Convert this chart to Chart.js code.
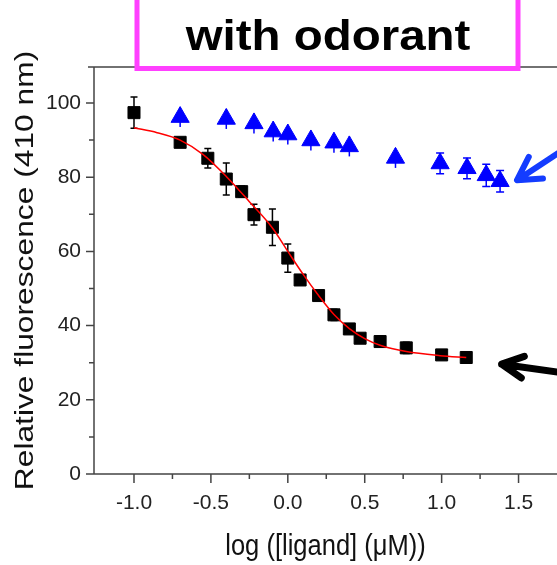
<!DOCTYPE html>
<html>
<head>
<meta charset="utf-8">
<script src="https://cdn.jsdelivr.net/npm/chart.js@4.4.0/dist/chart.umd.min.js"></script>
<style>
  html, body { margin: 0; padding: 0; background: #fff; }
</style>
</head>
<body>
<canvas id="myChart" width="557" height="565"></canvas>
<script>
// log([ligand] (uM)) vs relative fluorescence
var blackX   = [-1.0, -0.70, -0.52, -0.40, -0.30, -0.22, -0.10, 0.0, 0.08, 0.20, 0.30, 0.40, 0.47, 0.60, 0.77, 1.0, 1.16];
var blackY   = [97.4, 89.4, 85.1, 79.5, 76.1, 69.9, 66.5, 58.2, 52.3, 48.1, 42.9, 39.1, 36.6, 35.7, 34.0, 32.1, 31.4];
var blackErr = [4.2, 1.2, 2.6, 4.3, 1.5, 2.8, 4.9, 3.8, 1.2, 1.0, 1.5, 1.0, 1.0, 1.5, 1.5, 1.2, 1.0];

var blueX   = [-0.70, -0.40, -0.22, -0.095, 0.0, 0.15, 0.30, 0.40, 0.70, 0.99, 1.165, 1.29, 1.38];
var blueY   = [96.2, 95.7, 94.5, 92.3, 91.5, 89.9, 89.3, 88.3, 85.2, 83.7, 82.4, 80.5, 78.9];
var blueErr = [2.7, 2.7, 2.7, 2.7, 2.7, 2.7, 2.7, 2.7, 2.7, 2.8, 2.8, 3.0, 2.9];
var blueCap = [false, false, false, false, false, false, false, false, false, true, true, true, true];

// red fitted curve
var fitX = [-1.0, -0.85, -0.70, -0.55, -0.40, -0.25, -0.10, 0.0, 0.10, 0.20, 0.30, 0.40, 0.50, 0.60, 0.77, 0.99, 1.16];
var fitY = [93.3, 92.0, 90.0, 86.1, 80.2, 73.4, 66.3, 60.0, 53.8, 48.1, 43.0, 39.2, 36.5, 34.7, 33.0, 31.9, 31.4];

var xTicks = [-1.0, -0.5, 0.0, 0.5, 1.0, 1.5];
var xMinor = [-0.75, -0.25, 0.25, 0.75, 1.25];
var yTicks = [0, 20, 40, 60, 80, 100];
var yMinor = [10, 30, 50, 70, 90];

var font = "'Liberation Sans', Arial, sans-serif";

function pts(xs, ys) {
  return xs.map(function (x, i) { return { x: x, y: ys[i] }; });
}

function arrow(ctx, x1, y1, x2, y2, color, w, head, spread) {
  var a = Math.atan2(y1 - y2, x1 - x2);
  ctx.save();
  ctx.strokeStyle = color;
  ctx.lineWidth = w;
  ctx.lineCap = 'round';
  ctx.lineJoin = 'round';
  ctx.beginPath();
  ctx.moveTo(x1, y1);
  ctx.lineTo(x2, y2);
  ctx.moveTo(x2 + head * Math.cos(a - spread), y2 + head * Math.sin(a - spread));
  ctx.lineTo(x2, y2);
  ctx.lineTo(x2 + head * Math.cos(a + spread), y2 + head * Math.sin(a + spread));
  ctx.stroke();
  ctx.restore();
}

var decor = {
  id: 'decor',
  beforeDatasetsDraw: function (chart) {
    var ctx = chart.ctx, xs = chart.scales.x, ys = chart.scales.y;
    ctx.save();
    ctx.lineWidth = 1.5;
    // error bars
    ctx.strokeStyle = '#000';
    for (var i = 0; i < blackX.length; i++) {
      var px = xs.getPixelForValue(blackX[i]);
      var t = ys.getPixelForValue(blackY[i] + blackErr[i]);
      var b = ys.getPixelForValue(blackY[i] - blackErr[i]);
      ctx.beginPath();
      ctx.moveTo(px, t); ctx.lineTo(px, b);
      ctx.moveTo(px - 3.5, t); ctx.lineTo(px + 3.5, t);
      ctx.moveTo(px - 3.5, b); ctx.lineTo(px + 3.5, b);
      ctx.stroke();
    }
    ctx.strokeStyle = '#0000ff';
    for (var j = 0; j < blueX.length; j++) {
      var qx = xs.getPixelForValue(blueX[j]);
      var qt = ys.getPixelForValue(blueY[j] + blueErr[j]);
      var qb = ys.getPixelForValue(blueY[j] - blueErr[j]);
      ctx.beginPath();
      ctx.moveTo(qx, qt); ctx.lineTo(qx, qb);
      if (blueCap[j]) {
        ctx.moveTo(qx - 4, qt); ctx.lineTo(qx + 4, qt);
        ctx.moveTo(qx - 4, qb); ctx.lineTo(qx + 4, qb);
      }
      ctx.stroke();
    }
    ctx.restore();
  },
  afterDraw: function (chart) {
    var ctx = chart.ctx, xs = chart.scales.x, ys = chart.scales.y, a = chart.chartArea;
    ctx.save();
    // axes
    ctx.strokeStyle = '#444';
    ctx.lineWidth = 1.5;
    ctx.beginPath();
    ctx.moveTo(a.left, a.top); ctx.lineTo(a.left, a.bottom);
    ctx.moveTo(a.left, a.bottom); ctx.lineTo(a.right, a.bottom);
    ctx.moveTo(a.left - 6, a.top); ctx.lineTo(a.right, a.top);
    xTicks.forEach(function (v) {
      var p = xs.getPixelForValue(v);
      ctx.moveTo(p, a.bottom); ctx.lineTo(p, a.bottom + 9);
    });
    xMinor.forEach(function (v) {
      var p = xs.getPixelForValue(v);
      ctx.moveTo(p, a.bottom); ctx.lineTo(p, a.bottom + 5);
    });
    yTicks.forEach(function (v) {
      var p = ys.getPixelForValue(v);
      ctx.moveTo(a.left - 8, p); ctx.lineTo(a.left, p);
    });
    yMinor.forEach(function (v) {
      var p = ys.getPixelForValue(v);
      ctx.moveTo(a.left - 5, p); ctx.lineTo(a.left, p);
    });
    ctx.stroke();

    // axis titles
    ctx.fillStyle = '#111';
    ctx.font = '29px ' + font;
    ctx.textAlign = 'center';
    ctx.textBaseline = 'alphabetic';
    ctx.save();
    ctx.translate((a.left + a.right) / 2, 555);
    ctx.scale(0.88, 1);
    ctx.fillText('log ([ligand] (\u03bcM))', 0, 0);
    ctx.restore();

    ctx.save();
    ctx.translate(33, (a.top + a.bottom) / 2);
    ctx.rotate(-Math.PI / 2);
    ctx.scale(1.27, 1);
    ctx.font = '25px ' + font;
    ctx.fillText('Relative fluorescence (410 nm)', 0, 0);
    ctx.restore();

    // title box
    ctx.fillStyle = '#fff';
    ctx.fillRect(137, -20, 381, 88.5);
    ctx.strokeStyle = '#ff40ff';
    ctx.lineWidth = 5;
    ctx.strokeRect(137, -20, 381, 88.5);
    ctx.fillStyle = '#000';
    ctx.font = 'bold 42px ' + font;
    ctx.save();
    ctx.translate(328, 50);
    ctx.scale(1.13, 1);
    ctx.fillText('with odorant', 0, 0);
    ctx.restore();

    // arrows pointing at the two series
    arrow(ctx, xs.getPixelForValue(1.85), ys.getPixelForValue(89.0),
          xs.getPixelForValue(1.49), ys.getPixelForValue(79.2), 'rgb(20,60,255)', 6, 26, 0.52);
    arrow(ctx, xs.getPixelForValue(1.85), ys.getPixelForValue(26.9),
          xs.getPixelForValue(1.39), ys.getPixelForValue(29.6), '#000', 7, 24, 0.47);
    ctx.restore();
  }
};

var ctx = document.getElementById('myChart').getContext('2d');
var myChart = new Chart(ctx, {
  type: 'scatter',
  data: {
    datasets: [{
      label: 'fit',
      data: pts(fitX, fitY),
      showLine: true,
      borderColor: '#ff0000',
      borderWidth: 1.5,
      pointRadius: 0,
      cubicInterpolationMode: 'monotone',
      fill: false
    }, {
      label: 'with odorant',
      data: pts(blackX, blackY),
      pointStyle: 'rect',
      pointRadius: 8.5,
      backgroundColor: '#000',
      borderColor: '#000',
      borderWidth: 1
    }, {
      label: 'control',
      data: pts(blueX, blueY),
      pointStyle: 'triangle',
      pointRadius: 10.5,
      backgroundColor: '#0000ff',
      borderColor: '#0000ff',
      borderWidth: 1
    }]
  },
  options: {
    responsive: false,
    animation: false,
    devicePixelRatio: 1,
    layout: { autoPadding: false, padding: { top: 67, right: 0, left: 0, bottom: 0 } },
    plugins: { legend: { display: false }, tooltip: { enabled: false } },
    scales: {
      x: {
        type: 'linear',
        min: -1.26,
        max: 1.75,
        grid: { display: false, drawTicks: false },
        border: { display: false },
        afterBuildTicks: function (s) { s.ticks = xTicks.map(function (v) { return { value: v }; }); },
        afterFit: function (s) { s.height = 91; s.paddingRight = 0; s.paddingLeft = 0; },
        ticks: {
          padding: 17,
          color: '#222',
          font: { family: font, size: 21 },
          maxRotation: 0,
          callback: function (v) { return Number(v).toFixed(1); }
        }
      },
      y: {
        min: 0,
        max: 109.7,
        grid: { display: false, drawTicks: false },
        border: { display: false },
        afterBuildTicks: function (s) { s.ticks = yTicks.map(function (v) { return { value: v }; }); },
        afterFit: function (s) { s.width = 94; },
        ticks: {
          padding: 13,
          color: '#222',
          font: { family: font, size: 21 },
          callback: function (v) { return String(v); }
        }
      }
    }
  },
  plugins: [decor]
});
</script>
</body>
</html>
